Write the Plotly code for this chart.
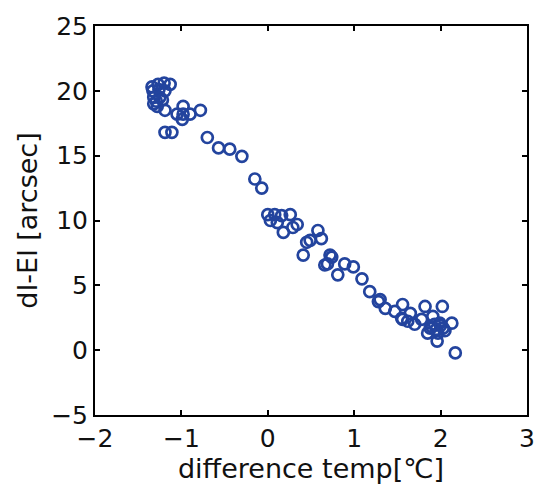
import plotly.graph_objects as go

# difference temperature [°C]
temp_diff = [
    -1.34, -1.27, -1.20, -1.13, -1.33, -1.26, -1.19, -1.32, -1.25, -1.32,
    -1.29, -1.22, -1.28, -1.19, -1.05, -0.98, -0.98, -0.99, -0.90, -0.78,
    -1.19, -1.11, -0.70, -0.57, -0.44, -0.30, -0.15, -0.07,
    0.00, 0.08, 0.16, 0.26, 0.03, 0.11, 0.34, 0.29, 0.18, 0.58,
    0.62, 0.49, 0.45, 0.41, 0.72, 0.69, 0.74, 0.66, 0.81, 0.89,
    0.99, 1.09, 1.18, 1.28, 1.30, 1.36, 1.47, 1.55, 1.56, 1.56,
    1.62, 1.65, 1.70, 1.78, 1.82, 2.02, 1.91, 1.99, 2.13, 1.85,
    1.88, 1.97, 1.96, 1.90, 1.95, 2.00, 2.05, 1.93, 2.03, 2.17,
]
# dI-El [arcsec]
di_el = [
    20.3, 20.5, 20.6, 20.5, 20.0, 20.1, 20.0, 19.5, 19.5, 19.0,
    19.2, 19.3, 18.8, 18.5, 18.2, 18.8, 18.2, 17.8, 18.2, 18.5,
    16.8, 16.8, 16.4, 15.6, 15.5, 14.95, 13.2, 12.5,
    10.45, 10.45, 10.38, 10.45, 10.0, 9.84, 9.69, 9.46, 9.08, 9.23,
    8.6, 8.47, 8.32, 7.33, 7.33, 6.65, 7.18, 6.57, 5.81, 6.65,
    6.42, 5.50, 4.51, 3.75, 3.90, 3.22, 2.99, 2.46, 3.52, 2.38,
    2.23, 2.84, 2.00, 2.38, 3.37, 3.37, 2.61, 2.08, 2.08, 1.31,
    1.69, 1.31, 0.70, 1.80, 1.60, 1.90, 1.50, 2.00, 1.70, -0.21,
]

x_ticks = [-2, -1, 0, 1, 2, 3]
y_ticks = [-5, 0, 5, 10, 15, 20, 25]

FONT = "DejaVu Sans"
TXT = "#111111"

fig = go.Figure()
fig.add_trace(go.Scatter(
    x=temp_diff, y=di_el, mode="markers",
    marker=dict(symbol="circle-open", size=11, color="#23449e",
                line=dict(width=2.7, color="#23449e")),
    showlegend=False,
))

axis_common = dict(
    showgrid=False, zeroline=False, showline=True, linecolor="black",
    linewidth=2, mirror="ticks", ticks="inside", ticklen=5, tickwidth=2,
    tickcolor="black", tickfont=dict(family=FONT, size=25, color=TXT),
)

fig.update_layout(
    width=548, height=496,
    margin=dict(l=95, r=21, t=21, b=81),
    paper_bgcolor="white", plot_bgcolor="white",
    font=dict(family=FONT, color=TXT),
    xaxis=dict(range=[-2, 3], tickvals=x_ticks,
               title=dict(text="difference temp[℃]", font=dict(family=FONT, size=27, color=TXT), standoff=7),
               **axis_common),
    yaxis=dict(range=[-5, 25], tickvals=y_ticks,
               title=dict(text="dI-El [arcsec]", font=dict(family=FONT, size=27, color=TXT), standoff=6),
               **axis_common),
)

fig.write_html("out.html")
